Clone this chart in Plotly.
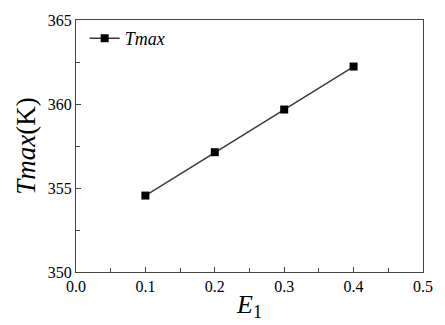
import plotly.graph_objects as go

e1 = [0.1, 0.2, 0.3, 0.4]
tmax = [354.55, 357.13, 359.67, 362.23]
x_ticks = [0.0, 0.1, 0.2, 0.3, 0.4, 0.5]
y_ticks = [350, 355, 360, 365]

font = "Times New Roman, Liberation Serif, serif"

fig = go.Figure()
fig.add_trace(go.Scatter(
    x=e1, y=tmax, mode="lines+markers", name="<i>Tmax</i>",
    line=dict(color="#3a3a3a", width=1.5),
    marker=dict(symbol="square", size=8, color="black"),
))

axis_common = dict(
    showline=True, linecolor="#444", linewidth=1.2, mirror=True,
    ticks="inside", ticklen=5, tickcolor="#444", tickwidth=1,
    showgrid=False, zeroline=False,
    tickfont=dict(family=font, size=16, color="black"),
)

fig.update_xaxes(
    range=[0, 0.5], tickvals=x_ticks, ticktext=[f"{v:.1f}" for v in x_ticks],
    minor=dict(dtick=0.05, ticks="inside", ticklen=4, tickcolor="#444"),
    title=dict(text="<i>E</i><sub>1</sub>", font=dict(family=font, size=26, color="black"), standoff=0),
    **axis_common,
)
fig.update_yaxes(
    range=[350, 365], tickvals=y_ticks,
    minor=dict(dtick=2.5, ticks="inside", ticklen=4, tickcolor="#444"),
    title=dict(text="<i>Tmax</i>(K)", font=dict(family=font, size=27, color="black"), standoff=4),
    **axis_common,
)

fig.update_layout(
    width=445, height=325,
    margin=dict(l=76, r=14, t=18, b=49),
    plot_bgcolor="white", paper_bgcolor="white",
    font=dict(family=font, color="black"),
    showlegend=True,
    legend=dict(x=0.025, y=1.0, xanchor="left", yanchor="top",
                font=dict(family=font, size=18, color="black"),
                bgcolor="rgba(0,0,0,0)"),
)

fig.write_html("out.html")
